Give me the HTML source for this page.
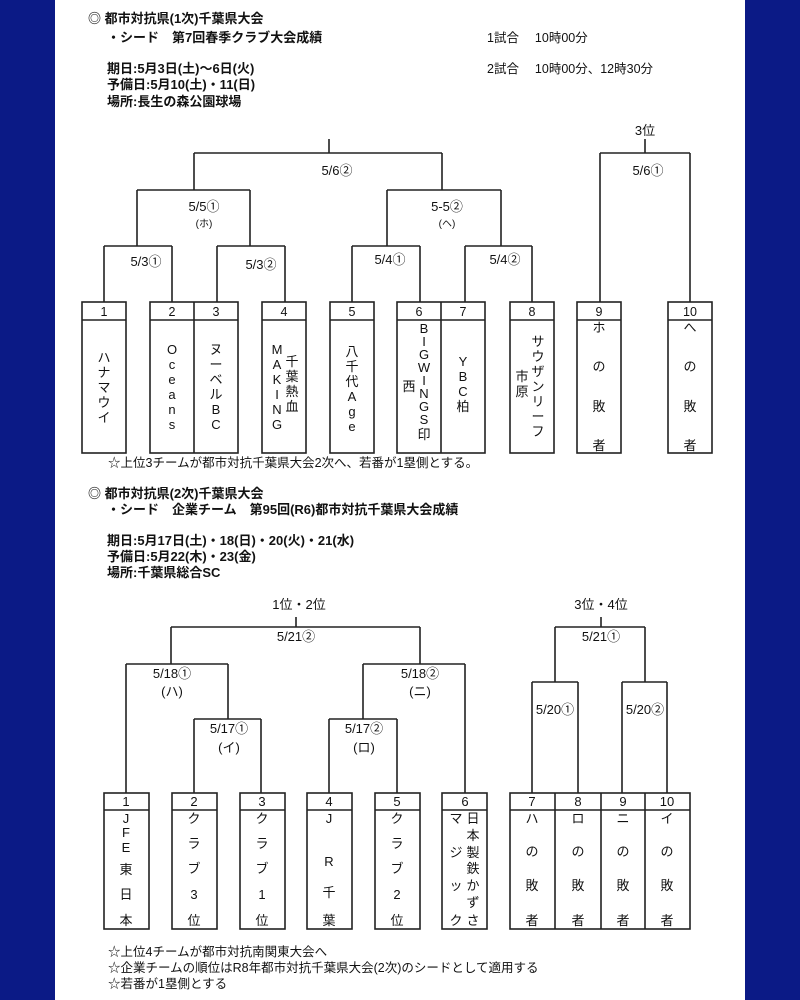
<!DOCTYPE html>
<html><head><meta charset="utf-8"><style>
html,body{margin:0;padding:0;background:#fff;}
svg{display:block;}
text{font-family:"Liberation Sans","Noto Sans CJK JP",sans-serif;fill:#111;}
.b{font-weight:bold;font-size:13px;}
.t{font-size:12.5px;}
.c{font-size:13px;text-anchor:middle;}
</style></head><body>
<svg width="800" height="1000" viewBox="0 0 800 1000" xmlns="http://www.w3.org/2000/svg">
<rect x="0" y="0" width="800" height="1000" fill="#fff"/>
<rect x="0" y="0" width="55" height="1000" fill="#0b1a86"/>
<rect x="745" y="0" width="55" height="1000" fill="#0b1a86"/>

<text class="b" x="88" y="23">◎ 都市対抗県(1次)千葉県大会</text>
<text class="b" x="107" y="42">・シード　第7回春季クラブ大会成績</text>
<text class="t" x="487" y="42">1試合　 10時00分</text>
<text class="b" x="107" y="73">期日:5月3日(土)～6日(火)</text>
<text class="t" x="487" y="73">2試合　 10時00分、12時30分</text>
<text class="b" x="107" y="89">予備日:5月10(土)・11(日)</text>
<text class="b" x="107" y="106">場所:長生の森公園球場</text>

<g stroke="#222" stroke-width="1.6" fill="none">
<path d="M329 139V153 M194 153H442 M194 153V190 M442 153V190"/>
<path d="M137 190H250 M137 190V246 M250 190V246"/>
<path d="M387 190H501 M387 190V246 M501 190V246"/>
<path d="M104 246H172 M104 246V302 M172 246V302"/>
<path d="M217 246H285 M217 246V302 M285 246V302"/>
<path d="M352 246H420 M352 246V302 M420 246V302"/>
<path d="M465 246H532 M465 246V302 M532 246V302"/>
<path d="M645 139V153 M600 153H690 M600 153V302 M690 153V302"/>
<rect x="82" y="302" width="44" height="151"/>
<rect x="150" y="302" width="88" height="151"/><path d="M194 302V453"/>
<rect x="262" y="302" width="44" height="151"/>
<rect x="330" y="302" width="44" height="151"/>
<rect x="397" y="302" width="88" height="151"/><path d="M441 302V453"/>
<rect x="510" y="302" width="44" height="151"/>
<rect x="577" y="302" width="44" height="151"/>
<rect x="668" y="302" width="44" height="151"/>
<path d="M82 320H126 M150 320H238 M262 320H306 M330 320H374 M397 320H485 M510 320H554 M577 320H621 M668 320H712"/>

<path d="M296 617V627 M171 627H420 M171 627V664 M420 627V664"/>
<path d="M126 664H228 M126 664V793 M228 664V719"/>
<path d="M363 664H465 M363 664V719 M465 664V793"/>
<path d="M194 719H261 M194 719V793 M261 719V793"/>
<path d="M329 719H397 M329 719V793 M397 719V793"/>
<path d="M601 617V627 M555 627H645 M555 627V682 M645 627V682"/>
<path d="M532 682H578 M532 682V793 M578 682V793"/>
<path d="M622 682H667 M622 682V793 M667 682V793"/>
<rect x="104" y="793" width="45" height="136"/>
<rect x="172" y="793" width="45" height="136"/>
<rect x="240" y="793" width="45" height="136"/>
<rect x="307" y="793" width="45" height="136"/>
<rect x="375" y="793" width="45" height="136"/>
<rect x="442" y="793" width="45" height="136"/>
<rect x="510" y="793" width="180" height="136"/>
<path d="M555 793V929 M601 793V929 M645 793V929"/>
<path d="M104 810H149 M172 810H217 M240 810H285 M307 810H352 M375 810H420 M442 810H487 M510 810H690"/>
</g>

<text class="c" x="645" y="135">3位</text>
<text class="c" x="337" y="175">5/6②</text>
<text class="c" x="648" y="175">5/6①</text>
<text class="c" x="204" y="211">5/5①</text>
<text class="c" x="204" y="227" style="font-size:10px">(ホ)</text>
<text class="c" x="447" y="211">5-5②</text>
<text class="c" x="447" y="227" style="font-size:10px">(ヘ)</text>
<text class="c" x="146" y="266">5/3①</text>
<text class="c" x="261" y="269">5/3②</text>
<text class="c" x="390" y="264">5/4①</text>
<text class="c" x="505" y="264">5/4②</text>

<g style="font-size:12.5px;text-anchor:middle">
<text x="104" y="316">1</text><text x="172" y="316">2</text><text x="216" y="316">3</text><text x="284" y="316">4</text><text x="352" y="316">5</text><text x="419" y="316">6</text><text x="463" y="316">7</text><text x="532" y="316">8</text><text x="599" y="316">9</text><text x="690" y="316">10</text>
</g>

<g style="font-size:13px;text-anchor:middle">
<text x="104" y="362">ハ</text><text x="104" y="377">ナ</text><text x="104" y="392">マ</text><text x="104" y="407">ウ</text><text x="104" y="422">イ</text>
<text x="172" y="354">O</text><text x="172" y="369">c</text><text x="172" y="384">e</text><text x="172" y="399">a</text><text x="172" y="414">n</text><text x="172" y="429">s</text>
<text x="216" y="354">ヌ</text><text x="216" y="369">ー</text><text x="216" y="384">ベ</text><text x="216" y="399">ル</text><text x="216" y="414">B</text><text x="216" y="429">C</text>
<text x="277" y="354">M</text><text x="277" y="369">A</text><text x="277" y="384">K</text><text x="277" y="399">I</text><text x="277" y="414">N</text><text x="277" y="429">G</text>
<text x="292" y="366">千</text><text x="292" y="381">葉</text><text x="292" y="396">熱</text><text x="292" y="411">血</text>
<text x="352" y="356">八</text><text x="352" y="371">千</text><text x="352" y="386">代</text><text x="352" y="401">A</text><text x="352" y="416">g</text><text x="352" y="431">e</text>
<text x="424" y="333">B</text><text x="424" y="346">I</text><text x="424" y="359">G</text><text x="424" y="372">W</text><text x="424" y="385">I</text><text x="424" y="398">N</text><text x="424" y="411">G</text><text x="424" y="424">S</text><text x="424" y="439">印</text>
<text x="409" y="391">西</text>
<text x="463" y="366">Y</text><text x="463" y="381">B</text><text x="463" y="396">C</text><text x="463" y="411">柏</text>
<text x="538" y="346">サ</text><text x="538" y="361">ウ</text><text x="538" y="376">ザ</text><text x="538" y="391">ン</text><text x="538" y="406">リ</text><text x="538" y="421">ー</text><text x="538" y="436">フ</text>
<text x="522" y="381">市</text><text x="522" y="396">原</text>
<text x="599" y="332">ホ</text><text x="599" y="371">の</text><text x="599" y="411">敗</text><text x="599" y="450">者</text>
<text x="690" y="332">へ</text><text x="690" y="371">の</text><text x="690" y="411">敗</text><text x="690" y="450">者</text>
</g>
<text class="t" x="108" y="467">☆上位3チームが都市対抗千葉県大会2次へ、若番が1塁側とする。</text>

<text class="b" x="88" y="498">◎ 都市対抗県(2次)千葉県大会</text>
<text class="b" x="107" y="514">・シード　企業チーム　第95回(R6)都市対抗千葉県大会成績</text>
<text class="b" x="107" y="545">期日:5月17日(土)・18(日)・20(火)・21(水)</text>
<text class="b" x="107" y="561">予備日:5月22(木)・23(金)</text>
<text class="b" x="107" y="577">場所:千葉県総合SC</text>

<text class="c" x="299" y="609">1位・2位</text>
<text class="c" x="601" y="609">3位・4位</text>
<text class="c" x="296" y="641">5/21②</text>
<text class="c" x="601" y="641">5/21①</text>
<text class="c" x="172" y="678">5/18①</text>
<text class="c" x="172" y="696">(ハ)</text>
<text class="c" x="420" y="678">5/18②</text>
<text class="c" x="420" y="696">(ニ)</text>
<text class="c" x="229" y="733">5/17①</text>
<text class="c" x="229" y="752">(イ)</text>
<text class="c" x="364" y="733">5/17②</text>
<text class="c" x="364" y="752">(ロ)</text>
<text class="c" x="555" y="714">5/20①</text>
<text class="c" x="645" y="714">5/20②</text>

<g style="font-size:13px;text-anchor:middle">
<text x="126" y="806">1</text><text x="194" y="806">2</text><text x="262" y="806">3</text><text x="329" y="806">4</text><text x="397" y="806">5</text><text x="465" y="806">6</text><text x="532" y="806">7</text><text x="578" y="806">8</text><text x="623" y="806">9</text><text x="667" y="806">10</text>
<text x="126" y="823">J</text><text x="126" y="837">F</text><text x="126" y="852">E</text><text x="126" y="874">東</text><text x="126" y="899">日</text><text x="126" y="925">本</text>
<text x="194" y="823">ク</text><text x="194" y="848">ラ</text><text x="194" y="873">ブ</text><text x="194" y="899">3</text><text x="194" y="925">位</text>
<text x="262" y="823">ク</text><text x="262" y="848">ラ</text><text x="262" y="873">ブ</text><text x="262" y="899">1</text><text x="262" y="925">位</text>
<text x="329" y="823">J</text><text x="329" y="866">R</text><text x="329" y="897">千</text><text x="329" y="925">葉</text>
<text x="397" y="823">ク</text><text x="397" y="848">ラ</text><text x="397" y="873">ブ</text><text x="397" y="899">2</text><text x="397" y="925">位</text>
<text x="473" y="823">日</text><text x="473" y="840">本</text><text x="473" y="857">製</text><text x="473" y="873">鉄</text><text x="473" y="890">か</text><text x="473" y="907">ず</text><text x="473" y="925">さ</text>
<text x="456" y="823">マ</text><text x="456" y="857">ジ</text><text x="456" y="890">ッ</text><text x="456" y="925">ク</text>
<text x="532" y="823">ハ</text><text x="532" y="856">の</text><text x="532" y="890">敗</text><text x="532" y="925">者</text>
<text x="578" y="823">ロ</text><text x="578" y="856">の</text><text x="578" y="890">敗</text><text x="578" y="925">者</text>
<text x="623" y="823">ニ</text><text x="623" y="856">の</text><text x="623" y="890">敗</text><text x="623" y="925">者</text>
<text x="667" y="823">イ</text><text x="667" y="856">の</text><text x="667" y="890">敗</text><text x="667" y="925">者</text>
</g>

<text class="t" x="108" y="956">☆上位4チームが都市対抗南関東大会へ</text>
<text class="t" x="108" y="972">☆企業チームの順位はR8年都市対抗千葉県大会(2次)のシードとして適用する</text>
<text class="t" x="108" y="988">☆若番が1塁側とする</text>
</svg>
</body></html>
